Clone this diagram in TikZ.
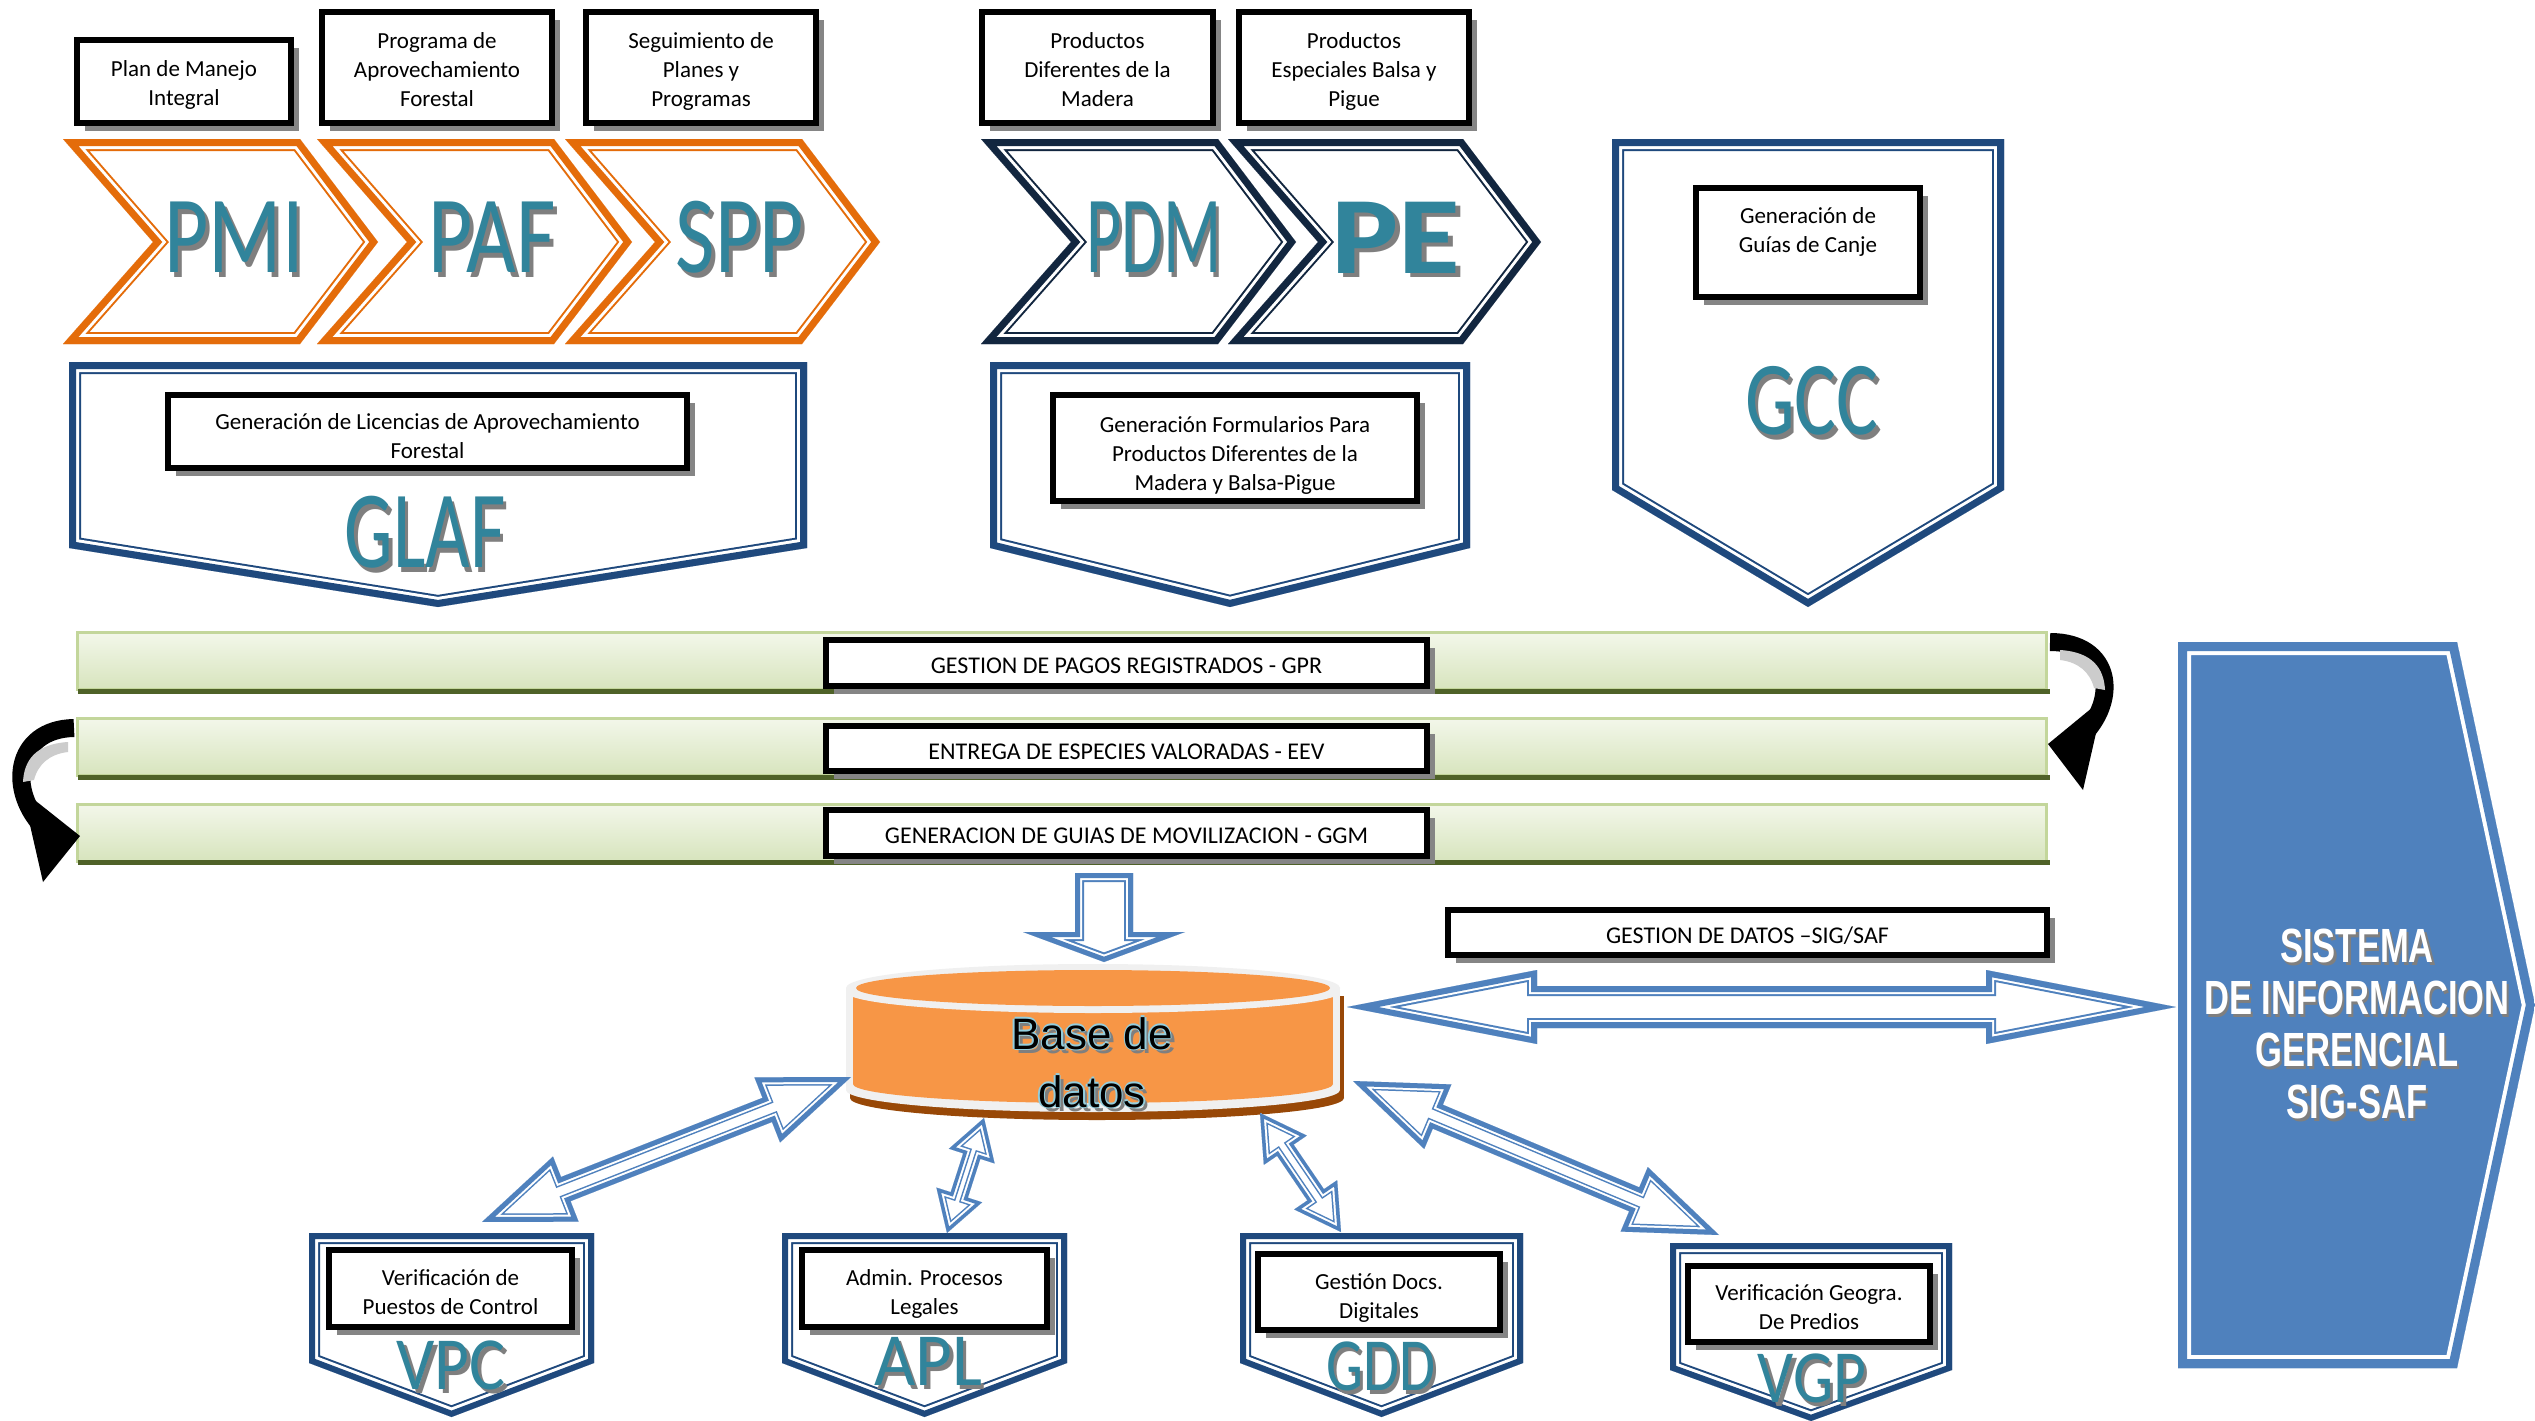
\documentclass[tikz,border=0pt]{standalone}
\usepackage{fontspec}
\usepackage{graphicx}
\setmainfont{Carlito}
\newfontfamily\arialf{Liberation Sans}
\usetikzlibrary{calc,shadows}
\definecolor{orangeC}{HTML}{E46C0A}
\definecolor{navyC}{HTML}{12263F}
\definecolor{pentaC}{HTML}{1F497D}
\definecolor{tealT}{HTML}{31849B}
\definecolor{tealS}{HTML}{7F7F7F}
\definecolor{arrowB}{HTML}{4F81BD}
\definecolor{barTop}{HTML}{F3F7EA}
\definecolor{barBot}{HTML}{D7E4BD}
\definecolor{barEdge}{HTML}{C3D69B}
\definecolor{barDark}{HTML}{4F6228}
\definecolor{dbOrange}{HTML}{F79646}
\definecolor{dbRim}{HTML}{F0F0F0}
\definecolor{dbShadow}{HTML}{984807}
\definecolor{boxShadow}{HTML}{858585}
\definecolor{lightBlue}{HTML}{93CDDD}
\definecolor{curveGray}{HTML}{CCCCCC}

% band colour, gap colour, thin colour, fill, band lw, gap lw, thin lw, path
\newcommand\framedpath[8]{%
  \begin{scope}
    \clip #8;
    \fill[#4] #8;
    \draw[#3, line width=#7, line join=miter] #8;
    \draw[#2, line width=#6, line join=miter] #8;
    \draw[#1, line width=#5, line join=miter] #8;
  \end{scope}}
\newcommand\chev[5]{\framedpath{#1}{white}{#1}{white}{14}{20}{24}{(#2,139) -- (#3,139) -- (#4,242) -- (#3,344) -- (#2,344) -- (#5,242) -- cycle}}
\newcommand\penta[8]{\framedpath{pentaC}{white}{pentaC}{white}{#6}{#7}{#8}{(#1,#3) -- (#2,#3) -- (#2,#4) -- ({(#1+#2)/2},#5) -- (#1,#4) -- cycle}}
% from, to, shaft hw, head hw, head len, lw band, lw gap, lw thin
\newcommand\dblarrow[8]{%
  \path let \p1=(#1), \p2=(#2), \n1={atan2(\y2-\y1,\x2-\x1)}, \n2={veclen(\x2-\x1,\y2-\y1)} in \pgfextra{\xdef\arang{\n1}\xdef\arlen{\n2}};
  \begin{scope}[shift={(#1)}, rotate=\arang]
  \framedpath{arrowB}{white}{arrowB}{white}{#6}{#7}{#8}{(0,0) -- (#5,#4) -- (#5,#3) -- ({\arlen-#5},#3) -- ({\arlen-#5},#4) -- (\arlen,0) -- ({\arlen-#5},-#4) -- ({\arlen-#5},-#3) -- (#5,-#3) -- (#5,-#4) -- cycle}
  \end{scope}}
\newcommand\sglarrow[8]{%
  \path let \p1=(#1), \p2=(#2), \n1={atan2(\y2-\y1,\x2-\x1)}, \n2={veclen(\x2-\x1,\y2-\y1)} in \pgfextra{\xdef\arang{\n1}\xdef\arlen{\n2}};
  \begin{scope}[shift={(#1)}, rotate=\arang]
  \framedpath{arrowB}{white}{arrowB}{white}{#6}{#7}{#8}{(0,#3) -- ({\arlen-#5},#3) -- ({\arlen-#5},#4) -- (\arlen,0) -- ({\arlen-#5},-#4) -- ({\arlen-#5},-#3) -- (0,-#3) -- cycle}
  \end{scope}}
\newcommand\tealtx[3]{\scalebox{#1}[1]{\makebox[0pt][l]{\kern#3\raisebox{-#3}{\textcolor{tealS}{#2}}}\textcolor{tealT}{#2}}}
\newcommand\dbtxt[1]{\makebox[0pt][l]{\kern4pt\raisebox{-4pt}{\textcolor{tealS}{#1}}}\makebox[0pt][l]{\kern-1.5pt\textcolor{lightBlue}{#1}}\makebox[0pt][l]{\kern1.5pt\textcolor{lightBlue}{#1}}\makebox[0pt][l]{\raisebox{1.5pt}{\textcolor{lightBlue}{#1}}}\makebox[0pt][l]{\raisebox{-1.5pt}{\textcolor{lightBlue}{#1}}}#1}
\newcommand\sigtxt[1]{\scalebox{0.72}[1]{\makebox[0pt][l]{\kern3pt\raisebox{-3pt}{\textcolor{tealS}{#1}}}\textcolor{white}{#1}}}
\newcommand\lblfont{\fontsize{23}{29}\selectfont}
\newcommand\barfont{\fontsize{24}{28}\selectfont}
% lowered multi-line box text
\newcommand\bx[2]{\raisebox{-#1}[\height][\depth]{\begin{tabular}{@{}c@{}}#2\end{tabular}}}

\begin{document}
\begin{tikzpicture}[x=1pt,y=-1pt,
  lbox/.style={draw=black, line width=6pt, fill=white, inner sep=2pt, align=center, font=\lblfont,
    drop shadow={shadow xshift=8pt, shadow yshift=-8pt, fill=boxShadow, opacity=1}},
  bar/.style={draw=barEdge, line width=3pt, top color=barTop, bottom color=barBot,
    minimum width=1969pt, minimum height=57pt, inner sep=0pt},
  bigt/.style={inner sep=0pt, font=\fontsize{110}{110}\selectfont},
  smallt/.style={inner sep=0pt, font=\fontsize{75}{75}\selectfont}]
\useasboundingbox (0,0) rectangle (2535,1421);
\fill[white] (0,0) rectangle (2535,1421);

% ---------- top label boxes ----------
\node[lbox, minimum width=214pt, minimum height=83pt] (bPMI) at (184,81.5) {\bx{4pt}{Plan de Manejo\\Integral}};
\node[lbox, minimum width=230pt, minimum height=111pt] (bPAF) at (437,67.5) {\bx{4pt}{Programa de\\Aprovechamiento\\Forestal}};
\node[lbox, minimum width=230pt, minimum height=111pt] (bSPP) at (701,67.5) {\bx{4pt}{Seguimiento de\\Planes y\\Programas}};
\node[lbox, minimum width=231pt, minimum height=111pt] (bPDM) at (1097.5,67.5) {\bx{4pt}{Productos\\Diferentes de la\\Madera}};
\node[lbox, minimum width=230pt, minimum height=111pt] (bPE) at (1354,67.5) {\bx{4pt}{Productos\\Especiales Balsa y\\Pigue}};

% ---------- chevrons ----------
\chev{orangeC}{63}{300}{378}{153}
\chev{orangeC}{317}{554}{632}{407}
\chev{orangeC}{565}{802}{880}{655}
\chev{navyC}{981}{1218}{1296}{1071}
\chev{navyC}{1228}{1463}{1541}{1318}
\node[bigt] (tPMI) at (234,240) {\tealtx{0.78}{PMI}{5pt}};
\node[bigt] (tPAF) at (492,240) {\tealtx{0.78}{PAF}{5pt}};
\node[bigt] (tSPP) at (740,240) {\tealtx{0.78}{SPP}{5pt}};
\node[bigt] (tPDM) at (1154,240) {\tealtx{0.62}{PDM}{5pt}};
\node[bigt] (tPE) at (1396,240) {\bfseries\tealtx{1.15}{PE}{4pt}};

% ---------- upper pentagons ----------
\penta{69}{807}{362}{548}{607}{14}{20}{24}
\penta{990}{1470}{362}{548}{607}{14}{20}{24}
\penta{1612}{2004}{139}{490}{607}{14}{20}{24}
\node[lbox, minimum width=519pt, minimum height=73pt] (bGLAF) at (427.5,431.5) {\bx{7pt}{Generación de Licencias de Aprovechamiento\\Forestal}};
\node[lbox, minimum width=364pt, minimum height=106pt] (bFORM) at (1235,448) {\bx{8pt}{Generación Formularios Para\\Productos Diferentes de la\\Madera y Balsa-Pigue}};
\node[lbox, minimum width=224pt, minimum height=109pt] (bGCC) at (1808,242.5) {\bx{4pt}{Generación de\\Guías de Canje\\\mbox{}}};
\node[bigt] (tGLAF) at (425,535) {\tealtx{0.70}{GLAF}{5pt}};
\node[bigt, font=\fontsize{105}{105}\selectfont] (tGCC) at (1812,403) {\tealtx{0.75}{GCC}{5pt}};

% ---------- green bars ----------
\node[bar] (gpr) at (1062,661) {};
\node[bar] (eev) at (1062,747) {};
\node[bar] (ggm) at (1062,832.5) {};
\foreach \b in {gpr,eev,ggm}{
  \draw[barDark, line width=5pt] ([xshift=2pt]\b.south west) -- ([xshift=1.5pt]\b.south east);
}
\node[lbox, font=\barfont, minimum width=601pt, minimum height=46pt] (lGPR) at (1126.5,663) {\bx{5pt}{GESTION DE PAGOS REGISTRADOS - GPR}};
\node[lbox, font=\barfont, minimum width=601pt, minimum height=45pt] (lEEV) at (1126.5,748.5) {\bx{5pt}{ENTREGA DE ESPECIES VALORADAS - EEV}};
\node[lbox, font=\barfont, minimum width=601pt, minimum height=46pt] (lGGM) at (1126.5,833) {\bx{5pt}{GENERACION DE GUIAS DE MOVILIZACION - GGM}};

% curved black arrows
\coordinate (rTip) at (2083,790);
\draw[line width=18pt] ([xshift=2pt,yshift=-11pt]gpr.north east) .. controls (2112,642) and (2120,700) .. (2080,738);
\fill (2104,698) -- (2048,744) -- (rTip) -- cycle;
\fill[curveGray] (2060,650) .. controls (2092,652) and (2104,668) .. (2105,690) -- (2094,688) .. controls (2090,672) and (2078,662) .. (2060,660) -- cycle;
\coordinate (lTip) at (43,882);
\draw[line width=18pt] ([xshift=-2pt,yshift=-11pt]eev.north west) .. controls (14,729) and (6,792) .. (46,830);
\fill (22,790) -- (80,836) -- (lTip) -- cycle;
\fill[curveGray] (68,742) .. controls (36,744) and (24,760) .. (23,782) -- (34,780) .. controls (38,764) and (50,754) .. (68,752) -- cycle;

% ---------- down arrow ----------
\coordinate (dnA) at (1104,873);
\coordinate (dnB) at (1104,962);
\sglarrow{dnA}{dnB}{29}{81}{30}{10}{14}{18}

% ---------- database cylinder ----------
\begin{scope}[shift={(4,8)}]
  \fill[dbShadow] (846,988) rectangle (1340,1090);
  \fill[dbShadow] (1093,1090) ellipse [x radius=247, y radius=22];
\end{scope}
\fill[dbRim] (846,988) rectangle (1340,1090);
\fill[dbRim] (1093,988) ellipse [x radius=247, y radius=24];
\fill[dbRim] (1093,1090) ellipse [x radius=247, y radius=22];
\fill[dbOrange] (853,995) rectangle (1333,1084);
\fill[dbOrange] (1093,1084) ellipse [x radius=240, y radius=19];
\fill[dbRim] (1093,992) ellipse [x radius=247, y radius=21];
\fill[dbOrange] (1093,988) ellipse [x radius=237, y radius=18];
\node[inner sep=0pt, align=center, font=\arialf\fontsize{44}{58}\selectfont] (db) at (1092,1064) {\dbtxt{Base de}\\\dbtxt{datos}};

% ---------- SIG ----------
\framedpath{arrowB}{white}{arrowB}{arrowB}{18}{26}{26}{(2178,642) -- (2457,642) -- (2535,1005) -- (2457,1368) -- (2178,1368) -- cycle}
\node[inner sep=0pt, align=center, font=\arialf\bfseries\fontsize{48}{52}\selectfont] (sig) at (2357,1025) {\sigtxt{SISTEMA}\\\sigtxt{DE INFORMACION}\\\sigtxt{GERENCIAL}\\\sigtxt{SIG-SAF}};

\node[lbox, font=\barfont, minimum width=599pt, minimum height=45pt] (lSIG) at (1747.5,932.5) {\bx{5pt}{GESTION DE DATOS –SIG/SAF}};
\coordinate (hA) at (1347,1007);
\coordinate (hB) at (2176,1007);
\dblarrow{hA}{hB}{21}{37}{190}{12}{16}{20}

% ---------- bottom pentagons ----------
\penta{309}{594}{1233}{1363}{1417}{12}{18}{22}
\penta{782}{1067}{1233}{1363}{1417}{12}{18}{22}
\penta{1240}{1523}{1233}{1363}{1417}{12}{18}{22}
\penta{1670}{1952}{1243}{1370}{1421}{12}{18}{22}
\node[lbox, minimum width=243pt, minimum height=77pt] (bVPC) at (450.5,1288.5) {\bx{6pt}{Verificación de\\Puestos de Control}};
\node[lbox, minimum width=245pt, minimum height=77pt] (bAPL) at (924.5,1288.5) {\bx{6pt}{Admin. Procesos\\Legales}};
\node[lbox, minimum width=242pt, minimum height=76pt] (bGDD) at (1379,1292) {\bx{6pt}{Gestión Docs.\\Digitales}};
\node[lbox, minimum width=242pt, minimum height=76pt] (bVGP) at (1809,1304) {\bx{5pt}{Verificación Geogra.\\De Predios}};
\node[smallt] (tVPC) at (451,1367) {\tealtx{0.9}{VPC}{4pt}};
\node[smallt] (tAPL) at (928,1363) {\tealtx{0.95}{APL}{4pt}};
\node[smallt] (tGDD) at (1381,1368) {\tealtx{0.78}{GDD}{4pt}};
\node[smallt] (tVGP) at (1812,1380) {\tealtx{0.85}{VGP}{4pt}};

% ---------- arrows db <-> modules ----------
\coordinate (aV1) at (851,1077);  \coordinate (aV2) at (482,1222);
\coordinate (aA1) at (984,1118);  \coordinate (aA2) at (947,1233);
\coordinate (aG1) at (1260,1113); \coordinate (aG2) at (1341,1232);
\coordinate (aP1) at (1353,1081); \coordinate (aP2) at (1719,1235);
\dblarrow{aV1}{aV2}{13}{35}{90}{10}{14}{17}
\dblarrow{aA1}{aA2}{9}{24}{40}{7}{11}{14}
\dblarrow{aG1}{aG2}{10}{26}{45}{7}{11}{14}
\dblarrow{aP1}{aP2}{13}{35}{92}{10}{14}{17}
\end{tikzpicture}
\end{document}
